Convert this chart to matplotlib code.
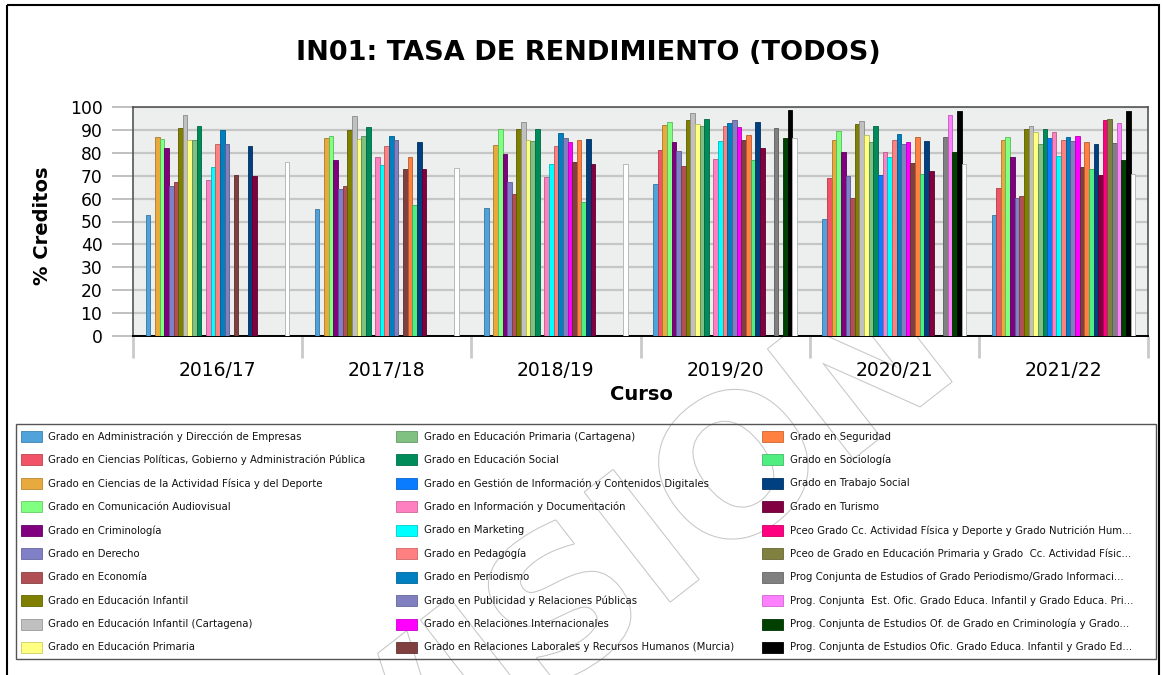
import numpy as np
import matplotlib
matplotlib.use("Agg")
import matplotlib.pyplot as plt
from matplotlib.patches import Rectangle
import matplotlib.patheffects as pe
from matplotlib.colors import to_rgb

plt.rcParams["font.family"] = ["DejaVu Sans"]

# ---------------------------------------------------------------- data
cursos = ["2016/17", "2017/18", "2018/19", "2019/20", "2020/21", "2021/22"]

titulaciones = [
    "Grado en Administración y Dirección de Empresas",
    "Grado en Ciencias Políticas, Gobierno y Administración Pública",
    "Grado en Ciencias de la Actividad Física y del Deporte",
    "Grado en Comunicación Audiovisual",
    "Grado en Criminología",
    "Grado en Derecho",
    "Grado en Economía",
    "Grado en Educación Infantil",
    "Grado en Educación Infantil (Cartagena)",
    "Grado en Educación Primaria",
    "Grado en Educación Primaria (Cartagena)",
    "Grado en Educación Social",
    "Grado en Gestión de Información y Contenidos Digitales",
    "Grado en Información y Documentación",
    "Grado en Marketing",
    "Grado en Pedagogía",
    "Grado en Periodismo",
    "Grado en Publicidad y Relaciones Públicas",
    "Grado en Relaciones Internacionales",
    "Grado en Relaciones Laborales y Recursos Humanos (Murcia)",
    "Grado en Seguridad",
    "Grado en Sociología",
    "Grado en Trabajo Social",
    "Grado en Turismo",
    "Pceo Grado Cc. Actividad Física y Deporte y Grado Nutrición Hum...",
    "Pceo de Grado en Educación Primaria y Grado  Cc. Actividad Físic...",
    "Prog Conjunta de Estudios of Grado Periodismo/Grado Informaci...",
    "Prog. Conjunta  Est. Ofic. Grado Educa. Infantil y Grado Educa. Pri...",
    "Prog. Conjunta de Estudios Of. de Grado en Criminología y Grado...",
    "Prog. Conjunta de Estudios Ofic. Grado Educa. Infantil y Grado Ed...",
    "Total",
]

colores = [
    "#4FA3DA", "#F25467", "#E8AA3C", "#80FF80", "#800080", "#8080C8",
    "#B05055", "#808000", "#C0C0C0", "#FFFF80", "#80C080", "#008C5A",
    "#0A7CFF", "#FF80C0", "#00FFFF", "#FF8080", "#0080C0", "#8080C0",
    "#FF00FF", "#804040", "#FF8040", "#50EE80", "#004080", "#800040",
    "#FF0080", "#808040", "#808080", "#FF80FF", "#004000", "#000000",
    "#FFFFFF",
]

nan = np.nan
# % of credits passed, one value per degree (same order as titulaciones)
tasa_2016_17 = [53.0, nan, 86.8, 85.9, 82.0, 65.3, 67.2, 90.8, 96.6, 85.8,
                85.5, 91.8, nan, 68.1, 73.6, 84.0, 89.9, 83.9, nan, 70.4,
                nan, nan, 83.0, 70.0, nan, nan, nan, nan, nan, nan, 76.0]
tasa_2017_18 = [55.3, nan, 86.4, 87.3, 76.7, 64.4, 65.4, 89.8, 96.0, 86.1,
                87.3, 91.4, nan, 78.2, 74.5, 82.9, 87.4, 85.5, nan, 72.9,
                78.2, 57.1, 84.8, 72.9, nan, nan, nan, nan, nan, nan, 73.2]
tasa_2018_19 = [56.1, nan, 83.2, 90.2, 79.5, 67.2, 62.2, 90.6, 93.4, 85.8,
                85.1, 90.5, nan, 69.5, 75.1, 82.9, 88.7, 86.4, 84.8, 76.0,
                85.8, 58.3, 86.2, 75.1, nan, nan, nan, nan, nan, nan, 75.0]
tasa_2019_20 = [66.2, 81.3, 92.2, 93.6, 84.6, 80.7, 74.4, 94.3, 97.4, 92.5,
                91.9, 94.9, nan, 77.2, 85.2, 91.8, 93.1, 94.4, 91.1, 85.7,
                87.8, 76.7, 93.6, 82.1, nan, nan, 90.9, nan, 86.5, 98.7, 86.5]
tasa_2020_21 = [51.2, 69.0, 85.8, 89.6, 80.4, 69.8, 60.3, 92.7, 94.1, 87.7,
                84.8, 91.7, 70.4, 80.5, 78.0, 85.5, 88.4, 83.7, 84.9, 75.4,
                87.0, 70.7, 85.2, 72.0, nan, nan, 87.0, 96.3, 80.4, 98.4, 75.0]
tasa_2021_22 = [52.7, 64.6, 85.5, 87.0, 78.3, 60.2, 61.1, 90.5, 91.8, 89.2,
                83.9, 90.6, 86.5, 89.2, 78.5, 85.5, 86.8, 85.2, 87.3, 73.6,
                84.8, 72.9, 83.9, 70.3, 94.4, 94.7, 84.3, 93.1, 77.0, 98.1, 70.6]

tasas = np.array([tasa_2016_17, tasa_2017_18, tasa_2018_19,
                  tasa_2019_20, tasa_2020_21, tasa_2021_22]).T  # (series, curso)

# ---------------------------------------------------------------- figure
W, H = 1162, 675
fig = plt.figure(figsize=(W / 100, H / 100), dpi=100)
fig.patch.set_facecolor("white")


def px_axes(x0, y0, x1, y1):
    """Axes rectangle given in pixel coordinates (origin top-left)."""
    return [x0 / W, 1 - y1 / H, (x1 - x0) / W, (y1 - y0) / H]


def darker(c, f=0.72):
    r, g, b = to_rgb(c)
    return (r * f, g * f, b * f)


# background layer with the watermark
bg = fig.add_axes([0, 0, 1, 1], zorder=0)
bg.set_xlim(0, W)
bg.set_ylim(H, 0)
bg.axis("off")
bg.text(562, 686, "REVISION", fontsize=137, fontweight="bold",
        color="white", rotation=38, rotation_mode="anchor",
        ha="center", va="baseline",
        path_effects=[pe.withStroke(linewidth=1.5, foreground="#C6C6C6")])

# main bar chart
ax = fig.add_axes(px_axes(133, 107, 1148, 336), zorder=1)
ax.set_facecolor("#EDEEEE")

n_series = len(titulaciones)
span = 0.85
bw = span / n_series
xc = np.arange(len(cursos))
for s in range(n_series):
    edge = "#B0B0B0" if colores[s] == "#FFFFFF" else darker(colores[s])
    ax.bar(xc - span / 2 + (s + 0.5) * bw, tasas[s], width=bw,
           color=colores[s], edgecolor=edge, linewidth=0.6, zorder=3)

ax.set_xlim(-0.5, len(cursos) - 0.5)
ax.set_ylim(0, 100)
ax.set_yticks(np.arange(0, 101, 10))
ax.yaxis.grid(True, color="#C6C6C6", linewidth=1.6, zorder=0)
ax.set_axisbelow(True)

ax.set_xticks(xc)
ax.set_xticklabels(cursos)
ax.set_xticks(np.arange(-0.5, len(cursos)), minor=True)
ax.tick_params(axis="x", which="major", length=0, pad=18, labelsize=13.5)
ax.tick_params(axis="x", which="minor", length=16, width=2.0,
               color="#CACACA")
ax.tick_params(axis="y", length=15, width=1.4, color="#C0C0C0", pad=7,
               labelsize=12.3)

for side in ("top", "left", "right"):
    ax.spines[side].set_color("#555555")
    ax.spines[side].set_linewidth(1.2)
ax.spines["bottom"].set_color("black")
ax.spines["bottom"].set_linewidth(1.4)

# overlay layer: title, axis titles, legend, frame
ov = fig.add_axes([0, 0, 1, 1], zorder=2)
ov.set_xlim(0, W)
ov.set_ylim(H, 0)
ov.axis("off")
ov.patch.set_visible(False)

ov.text(588, 53, "IN01: TASA DE RENDIMIENTO (TODOS)", fontsize=19.5,
        fontweight="bold", ha="center", va="center")
ov.text(641, 394, "Curso", fontsize=14, fontweight="bold",
        ha="center", va="center")
ov.text(42, 226, "% Creditos", fontsize=14, fontweight="bold",
        rotation=90, ha="center", va="center")

# outer frame
ov.add_patch(Rectangle((7, 5), 1152, 700, fill=False, edgecolor="black",
                       linewidth=1.5, clip_on=False))

# legend box
ov.add_patch(Rectangle((16, 424), 1140, 235, fill=False,
                       edgecolor="#555555", linewidth=1.0))
col_x = [21, 396, 762]
row_y0, row_dy = 436.5, 23.44
for s in range(n_series - 1):
    col, row = divmod(s, 10)
    x0 = col_x[col]
    y0 = row_y0 + row * row_dy
    ov.add_patch(Rectangle((x0, y0 - 5.5), 20.5, 11, facecolor=colores[s],
                           edgecolor=darker(colores[s], 0.8), linewidth=0.6))
    ov.text(x0 + 27.5, y0, titulaciones[s], fontsize=7.3,
            ha="left", va="center", color="#111111")

fig.savefig("out.png", dpi=100)
